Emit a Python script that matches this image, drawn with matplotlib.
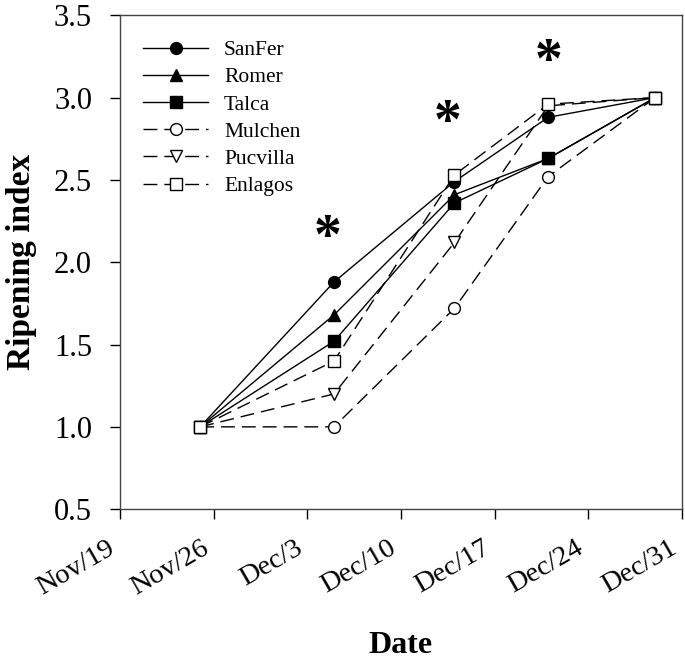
import matplotlib
matplotlib.use("Agg")
import matplotlib.pyplot as plt
import matplotlib.transforms as mtransforms
import numpy as np

plt.rcParams['font.family'] = ['Liberation Serif', 'DejaVu Serif']

dates = np.array(['2023-11-25', '2023-12-05', '2023-12-14', '2023-12-21', '2023-12-29'], dtype='datetime64[D]')
series_names = ['SanFer', 'Romer', 'Talca', 'Mulchen', 'Pucvilla', 'Enlagos']
sanfer = [1.0, 1.88, 2.49, 2.88, 3.0]
romer = [1.0, 1.68, 2.41, 2.63, 3.0]
talca = [1.0, 1.52, 2.36, 2.63, 3.0]
mulchen = [1.0, 1.0, 1.72, 2.52, 3.0]
pucvilla = [1.0, 1.2, 2.12, 2.95, 3.0]
enlagos = [1.0, 1.40, 2.53, 2.96, 3.0]
values = [sanfer, romer, talca, mulchen, pucvilla, enlagos]

star_dates = np.array(['2023-12-04T12', '2023-12-13T12', '2023-12-21T00'], dtype='datetime64[h]')
star_y = [2.14, 2.84, 3.21]

tick_dates = np.array(['2023-11-19', '2023-11-26', '2023-12-03', '2023-12-10',
                       '2023-12-17', '2023-12-24', '2023-12-31'], dtype='datetime64[D]')
tick_labels = ['Nov/19', 'Nov/26', 'Dec/3', 'Dec/10', 'Dec/17', 'Dec/24', 'Dec/31']

dash = (0, (10, 5))
styles = [
    dict(marker='o', mfc='black', ls='-'),
    dict(marker='^', mfc='black', ls='-'),
    dict(marker='s', mfc='black', ls='-'),
    dict(marker='o', mfc='white', ls=dash),
    dict(marker='v', mfc='white', ls=dash),
    dict(marker='s', mfc='white', ls=dash),
]

fig = plt.figure(figsize=(6.85, 6.63), dpi=100)
ax = fig.add_axes([0.175, 0.232, 0.8206, 0.745])

xd = dates.astype('datetime64[ms]').astype(object)
for name, vals, st in zip(series_names, values, styles):
    ax.plot(xd, vals, color='black', lw=1.0, linestyle=st['ls'], marker=st['marker'],
            markerfacecolor=st['mfc'], markeredgecolor='black', markersize=8.5,
            markeredgewidth=1.0, label=name)

for d, y in zip(star_dates.astype('datetime64[ms]').astype(object), star_y):
    ax.text(d, y, '*', fontsize=40, ha='center', va='center', fontweight='bold')

td = tick_dates.astype('datetime64[ms]').astype(object)
ax.set_xlim(td[0], td[-1])
ax.set_xticks(td)
ax.set_xticklabels(tick_labels, rotation=30, ha='right', rotation_mode='anchor', fontsize=20.5)
ax.set_ylim(0.5, 3.5)
ax.set_yticks([0.5, 1.0, 1.5, 2.0, 2.5, 3.0, 3.5])
ax.set_yticklabels(['0.5', '1.0', '1.5', '2.0', '2.5', '3.0', '3.5'], fontsize=22)
ax.tick_params(direction='out', length=7, width=1, top=False, right=False)
ax.tick_params(axis='y', pad=13)
ax.tick_params(axis='x', pad=12)
offset = mtransforms.ScaledTranslation(-13 / 100, 0, fig.dpi_scale_trans)
for lbl in ax.get_xticklabels():
    lbl.set_transform(lbl.get_transform() + offset)
for s in ax.spines.values():
    s.set_linewidth(1.0)
    s.set_color('#444444')

ax.set_xlabel('Date', fontsize=23, fontweight='bold', labelpad=22)
ax.set_ylabel('Ripening index', fontsize=24, fontweight='bold', labelpad=12)

leg = ax.legend(loc='upper left', frameon=False, fontsize=15.5, handlelength=3.0,
                handletextpad=0.75, labelspacing=0.33, bbox_to_anchor=(0.015, 0.98),
                borderaxespad=0.3)

fig.savefig('out.png', dpi=100)
